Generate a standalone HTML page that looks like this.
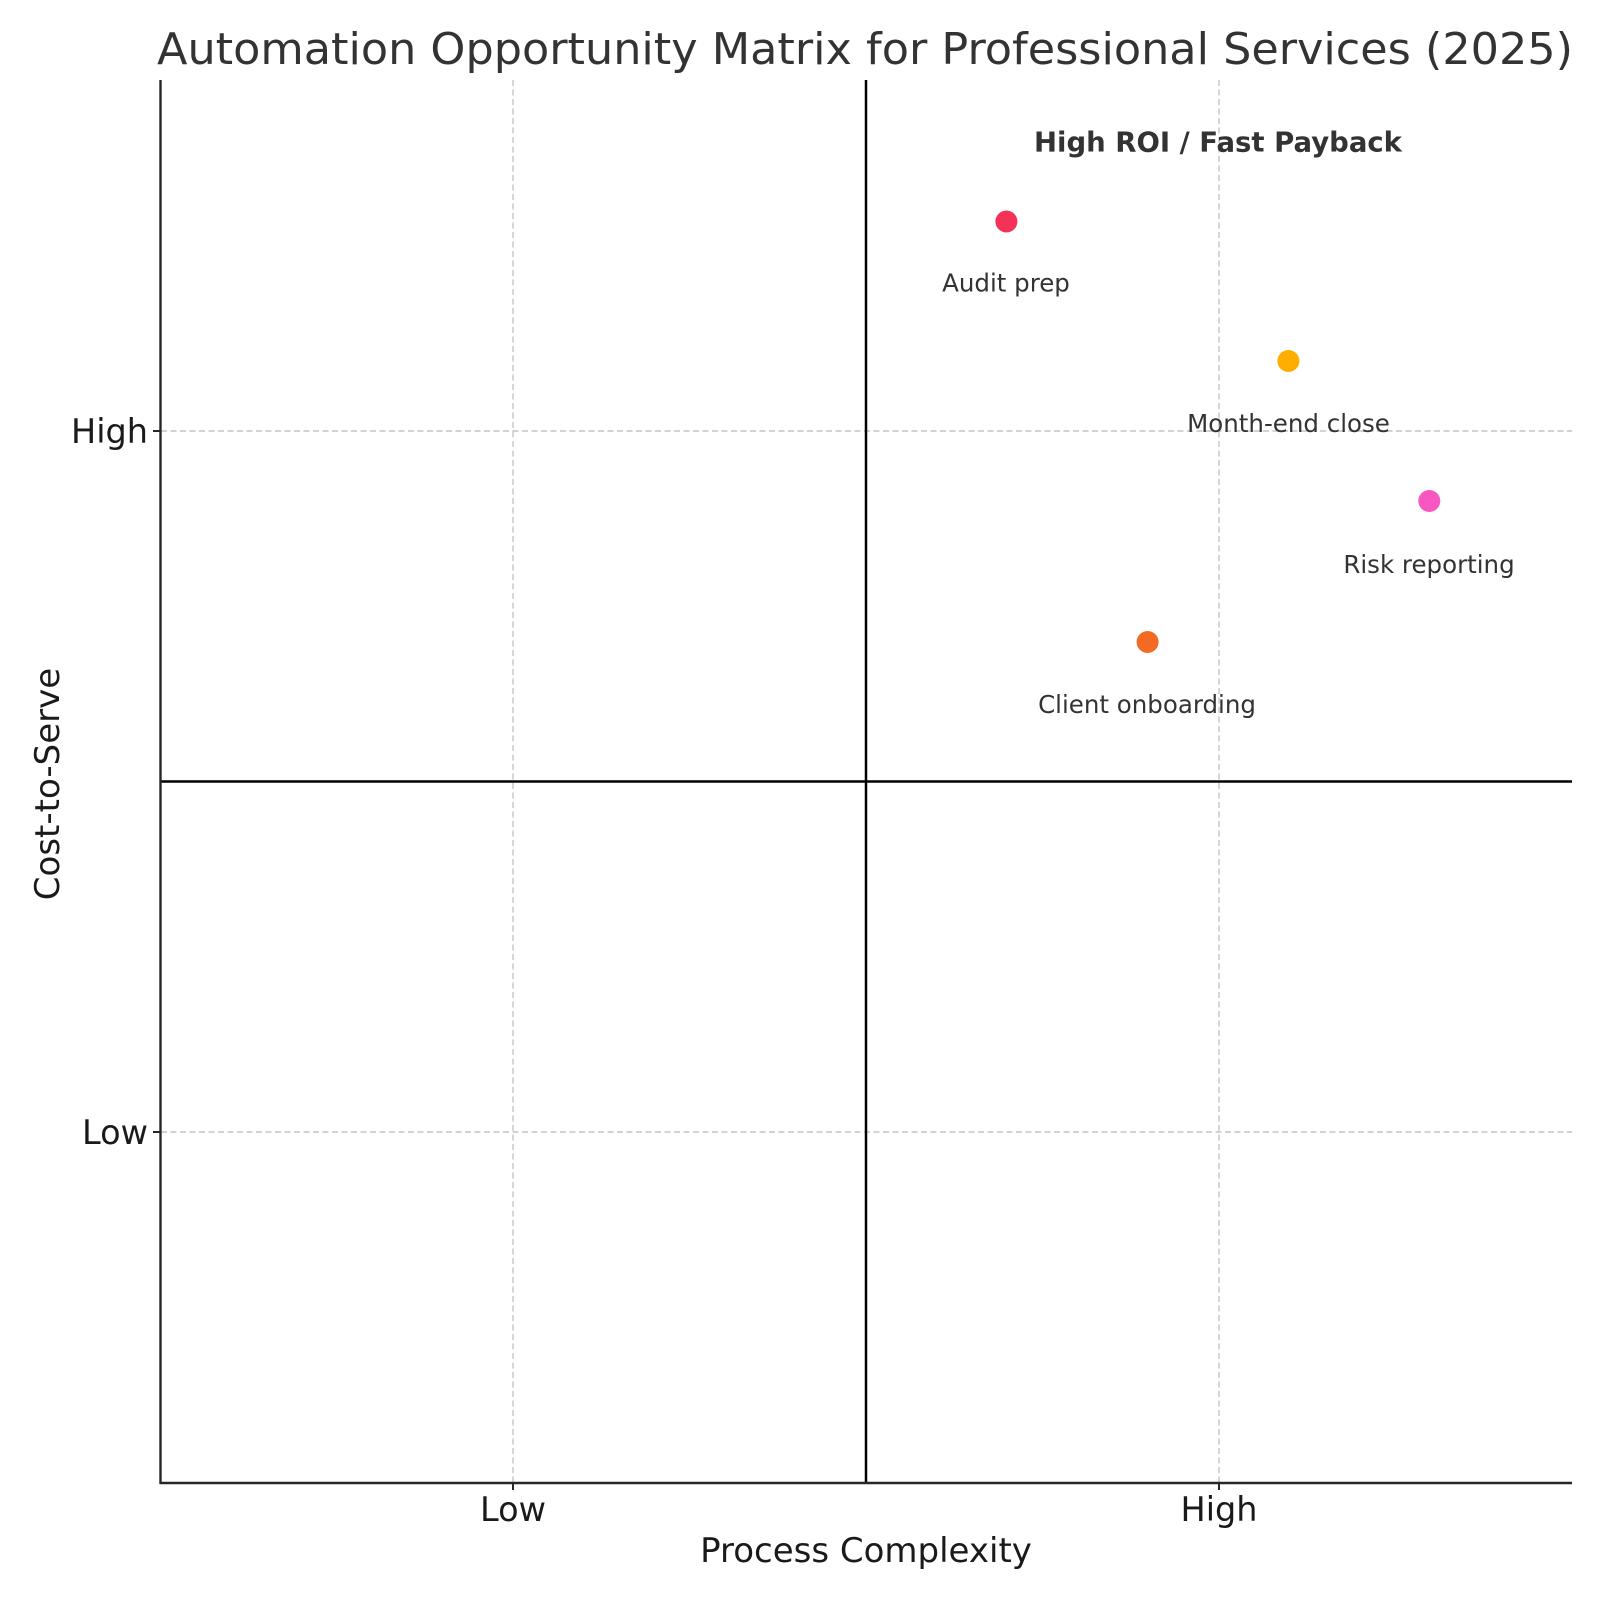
<!DOCTYPE html>
<html><head><meta charset="utf-8"><style>
html,body{margin:0;padding:0;background:#fff;}
svg{display:block;}
text{font-family:"DejaVu Sans","Liberation Sans",sans-serif;}
</style></head><body>
<svg width="1600" height="1600" viewBox="0 0 1600 1600" xmlns="http://www.w3.org/2000/svg">
<rect width="1600" height="1600" fill="#fff"/>
<text x="865" y="64" font-size="44" fill="#333" text-anchor="middle" textLength="1416" lengthAdjust="spacingAndGlyphs">Automation Opportunity Matrix for Professional Services (2025)</text>
<g stroke="#c4c4c4" stroke-width="1.4" stroke-dasharray="6,3.5">
<line x1="513" y1="80" x2="513" y2="1483"/>
<line x1="1219" y1="80" x2="1219" y2="1483"/>
<line x1="161" y1="431" x2="1572" y2="431"/>
<line x1="161" y1="1132" x2="1572" y2="1132"/>
</g>
<line x1="866" y1="80" x2="866" y2="1483" stroke="#000" stroke-width="2.5"/>
<line x1="161" y1="781.5" x2="1572" y2="781.5" stroke="#000" stroke-width="2.5"/>
<line x1="160.5" y1="80" x2="160.5" y2="1484" stroke="#262626" stroke-width="2.4"/>
<line x1="159.5" y1="1483" x2="1572" y2="1483" stroke="#262626" stroke-width="2.4"/>
<g stroke="#262626" stroke-width="2">
<line x1="513" y1="1483" x2="513" y2="1490"/>
<line x1="1219" y1="1483" x2="1219" y2="1490"/>
<line x1="160" y1="431" x2="153" y2="431"/>
<line x1="160" y1="1132" x2="153" y2="1132"/>
</g>
<g font-size="33.5" fill="#1a1a1a">
<text x="513" y="1521" text-anchor="middle">Low</text>
<text x="1219" y="1521" text-anchor="middle">High</text>
<text x="148" y="443" text-anchor="end">High</text>
<text x="148" y="1144" text-anchor="end">Low</text>
</g>
<g font-size="34" fill="#1a1a1a">
<text x="866" y="1562" text-anchor="middle">Process Complexity</text>
<text transform="translate(59,784) rotate(-90)" text-anchor="middle">Cost-to-Serve</text>
</g>
<text x="1218" y="151.5" font-size="27.5" font-weight="bold" fill="#333" text-anchor="middle">High ROI / Fast Payback</text>
<circle cx="1006.4" cy="221.5" r="11" fill="#f43258"/>
<circle cx="1288.4" cy="361" r="11" fill="#ffae00"/>
<circle cx="1429.3" cy="501" r="11" fill="#f857c1"/>
<circle cx="1147.6" cy="642" r="11" fill="#f36a22"/>
<g font-size="24.5" fill="#333" text-anchor="middle">
<text x="1006" y="291.5">Audit prep</text>
<text x="1288.5" y="432">Month-end close</text>
<text x="1429" y="573">Risk reporting</text>
<text x="1147" y="713">Client onboarding</text>
</g>
</svg>
</body></html>
